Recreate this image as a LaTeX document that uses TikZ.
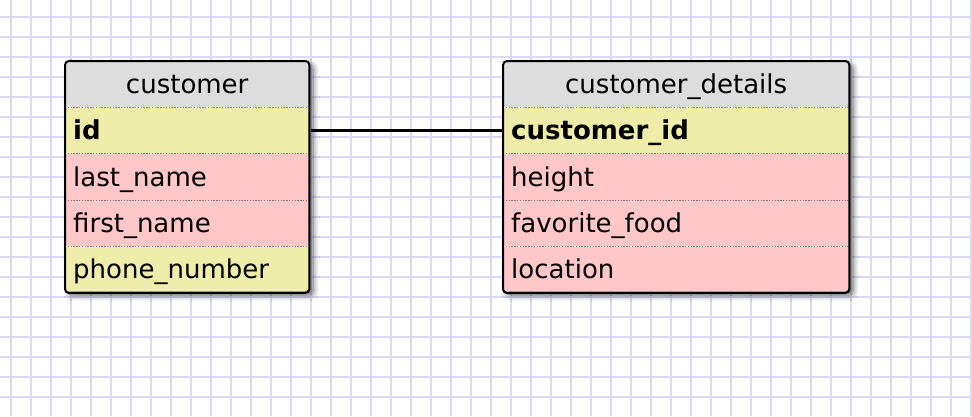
\documentclass[tikz,border=0pt]{standalone}
\usepackage{fontspec}
\setmainfont{DejaVu Sans}
\usetikzlibrary{positioning}
\usetikzlibrary{shadows.blur}
\definecolor{gridlilac}{RGB}{218,218,246}
\definecolor{headgray}{RGB}{221,221,221}
\definecolor{keyyellow}{RGB}{238,238,170}
\definecolor{fieldpink}{RGB}{255,199,199}
\definecolor{dotgray}{RGB}{120,120,120}
\tikzset{
  gridline/.style={line width=2pt, gridlilac},
  tblhead/.style={fill=headgray, inner sep=0pt, minimum height=46pt, text height=20pt, text depth=2pt},
  tblrow/.style={inner xsep=8pt, inner ysep=0pt, minimum height=46pt, text width=#1, align=left, text height=20pt, text depth=2pt},
  tblshadow/.style={fill=white, rounded corners=4pt, blur shadow={shadow xshift=4pt, shadow yshift=-4pt, shadow blur radius=6pt, shadow blur steps=8, shadow opacity=60}},
  tblframe/.style={line width=2pt, rounded corners=4pt},
  rowsep/.style={dotgray, line width=1.3pt, dash pattern=on 1.3pt off 1.5pt},
  relation/.style={line width=3.2pt}
}
\begin{document}
\begin{tikzpicture}[x=1pt,y=-1pt, font=\fontsize{26}{31}\selectfont]
\useasboundingbox (0,0) rectangle (972,416);
% background grid
\foreach \x in {11,31,...,971}
  \draw[gridline] (\x,0) -- (\x,416);
\foreach \y in {16.5,36.5,...,416}
  \draw[gridline] (0,\y) -- (972,\y);

% table customer
\fill[tblshadow] (65,61) rectangle (309,291);
\begin{scope}
  \clip[rounded corners=4pt] (65,61) rectangle (309,291);
  \node[tblhead, minimum width=244pt, anchor=north west] (cust) at (65,61) {customer};
  \node[tblrow=228pt, fill=keyyellow, below=0pt of cust] (cust-id) {\textbf{id}};
  \node[tblrow=228pt, fill=fieldpink, below=0pt of cust-id] (cust-last) {last\_name};
  \node[tblrow=228pt, fill=fieldpink, below=0pt of cust-last] (cust-first) {first\_name};
  \node[tblrow=228pt, fill=keyyellow, below=0pt of cust-first] (cust-phone) {phone\_number};
\end{scope}
\foreach \r in {cust,cust-id,cust-last,cust-first}
  \draw[rowsep] (\r.south west) -- (\r.south east);
\draw[tblframe] (cust.north west) rectangle (cust-phone.south east);

% table customer_details
\fill[tblshadow] (503,61) rectangle (849,291);
\begin{scope}
  \clip[rounded corners=4pt] (503,61) rectangle (849,291);
  \node[tblhead, minimum width=346pt, anchor=north west] (det) at (503,61) {customer\_details};
  \node[tblrow=330pt, fill=keyyellow, below=0pt of det] (det-id) {\textbf{customer\_id}};
  \node[tblrow=330pt, fill=fieldpink, below=0pt of det-id] (det-height) {height};
  \node[tblrow=330pt, fill=fieldpink, below=0pt of det-height] (det-food) {favorite\_food};
  \node[tblrow=330pt, fill=fieldpink, below=0pt of det-food] (det-loc) {location};
\end{scope}
\foreach \r in {det,det-id,det-height,det-food}
  \draw[rowsep] (\r.south west) -- (\r.south east);
\draw[tblframe] (det.north west) rectangle (det-loc.south east);

% one-to-one link
\draw[relation] ([xshift=2pt]cust-id.east) -- (det-id.west);
\end{tikzpicture}
\end{document}
